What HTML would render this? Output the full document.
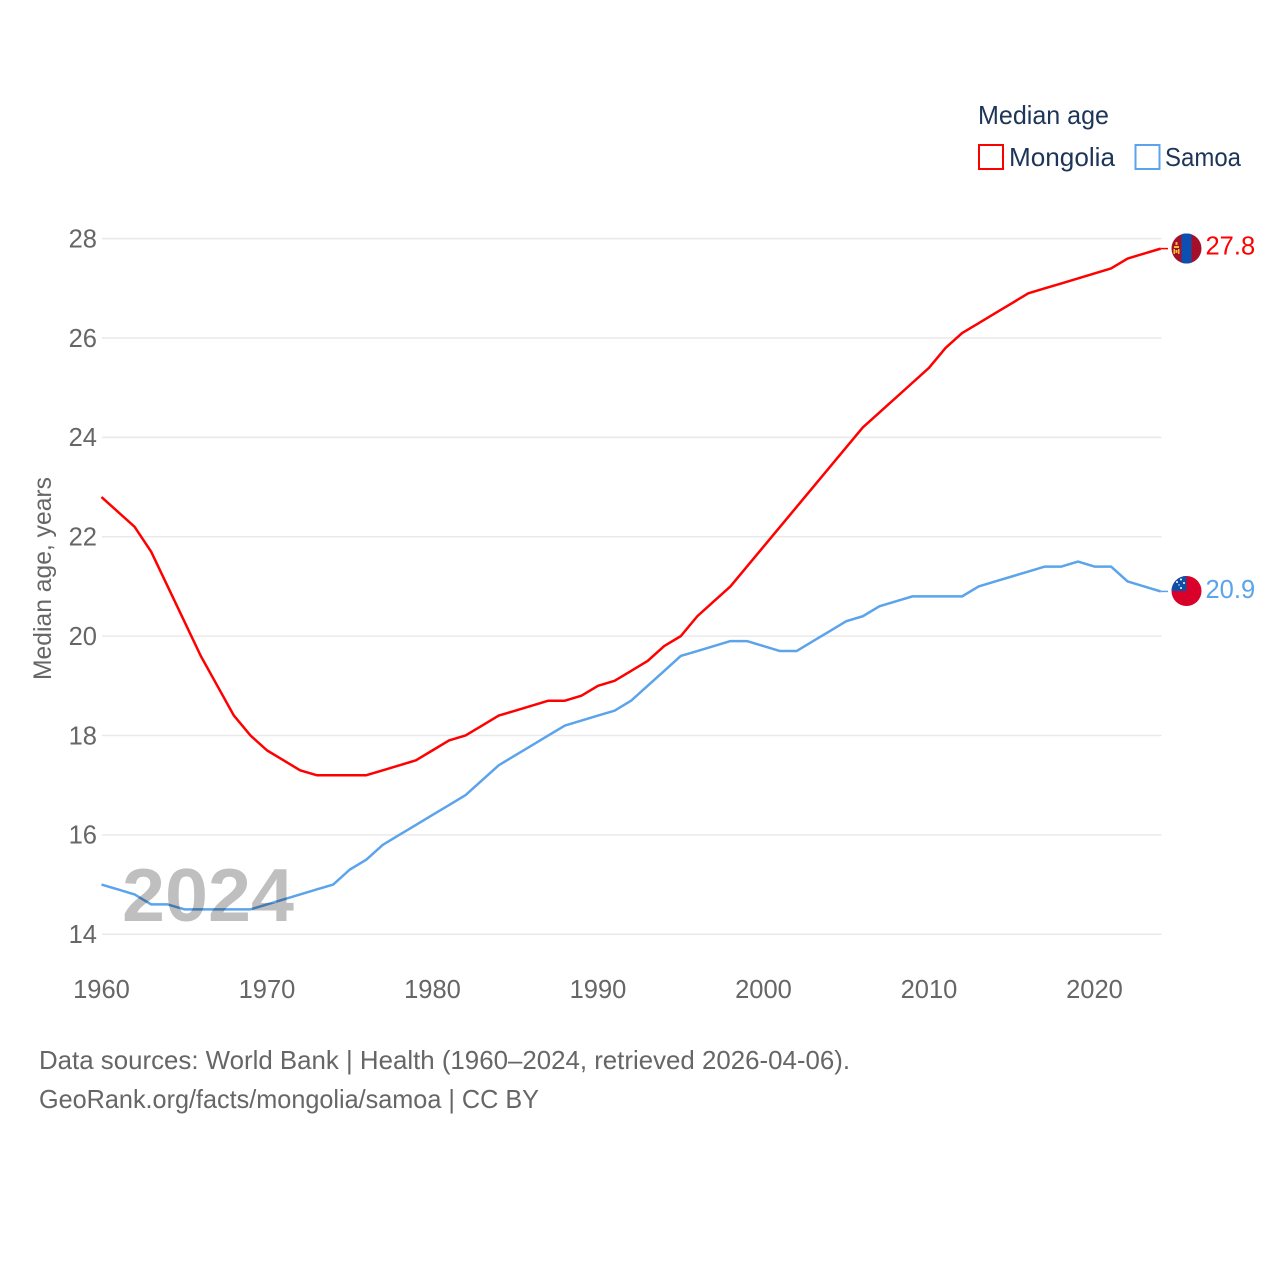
<!DOCTYPE html>
<html lang="en">
<head>
<meta charset="utf-8">
<title>Median age: Mongolia and Samoa</title>
<style>
html,body{margin:0;padding:0;background:#fff;width:1280px;height:1280px;overflow:hidden}
svg{display:block}
text{font-family:"Liberation Sans",sans-serif}
</style>
</head>
<body>
<svg id="chart" width="1280" height="1280" viewBox="0 0 1280 1280" xmlns="http://www.w3.org/2000/svg">
<defs>
<clipPath id="clip-mn"><circle cx="1186.5" cy="248.5" r="15"/></clipPath>
<clipPath id="clip-ws"><circle cx="1186.5" cy="591" r="15"/></clipPath>
</defs>
<g id="grid"></g>
<g id="yticks"></g>
<g id="xticks"></g>
<text transform="translate(51,680) rotate(-90)" font-size="25" fill="#666" textLength="203" lengthAdjust="spacingAndGlyphs">Median age, years</text>
<g id="series"></g>
<text x="122" y="921" font-size="75" font-weight="bold" fill="#000" fill-opacity="0.25" textLength="172" lengthAdjust="spacingAndGlyphs">2024</text>
<g clip-path="url(#clip-mn)">
<rect x="1171" y="233" width="31" height="31" fill="#a50f2a"/>
<rect x="1181.5" y="233" width="10" height="31" fill="#0b50b0"/>
<rect x="1174" y="246" width="5" height="2" fill="#f0c030"/>
<rect x="1175.5" y="242" width="2" height="3" fill="#f0c030"/>
<rect x="1173.5" y="249" width="1.5" height="5" fill="#f0c030"/>
<rect x="1178" y="249" width="1.5" height="5" fill="#f0c030"/>
<rect x="1175.5" y="250" width="2" height="3" fill="#f0c030"/>
</g>
<g clip-path="url(#clip-ws)">
<rect x="1171" y="575" width="31" height="32" fill="#d9002a"/>
<rect x="1171" y="575" width="15.5" height="16" fill="#0f4fa8"/>
<circle cx="1181" cy="579.5" r="1" fill="#fff"/>
<circle cx="1177" cy="582" r="1" fill="#fff"/>
<circle cx="1184" cy="583" r="1" fill="#fff"/>
<circle cx="1179" cy="585" r="0.7" fill="#fff"/>
<circle cx="1181" cy="588" r="1" fill="#fff"/>
</g>
<g id="end-labels"></g>
<g>
<text x="978" y="124" font-size="26" fill="#1d3557" textLength="131" lengthAdjust="spacingAndGlyphs">Median age</text>
<g>
<rect x="979" y="145" width="24" height="24" fill="#fff" stroke="#ff0000" stroke-width="2"/>
<text x="1009" y="166" font-size="26" fill="#1d3557" textLength="106" lengthAdjust="spacingAndGlyphs">Mongolia</text>
</g>
<g>
<rect x="1135.500" y="145" width="24" height="24" fill="#fff" stroke="#5ba4ec" stroke-width="2"/>
<text x="1165" y="166" font-size="26" fill="#1d3557" textLength="76" lengthAdjust="spacingAndGlyphs">Samoa</text>
</g>
</g>
<text x="39" y="1069" font-size="26" fill="#666" textLength="811" lengthAdjust="spacingAndGlyphs">Data sources: World Bank | Health (1960–2024, retrieved 2026-04-06).</text>
<a><text x="39" y="1108" font-size="26" fill="#666" textLength="500" lengthAdjust="spacingAndGlyphs">GeoRank.org/facts/mongolia/samoa | CC BY</text></a>
</svg>
<script>
const startYear = 1960;
const xTickYears = [1960, 1970, 1980, 1990, 2000, 2010, 2020];
const yTickValues = [14, 16, 18, 20, 22, 24, 26, 28];
const mongoliaValues = [22.8,22.5,22.2,21.7,21.0,20.3,19.6,19.0,18.4,18.0,17.7,17.5,17.3,17.2,17.2,17.2,17.2,17.3,17.4,17.5,17.7,17.9,18.0,18.2,18.4,18.5,18.6,18.7,18.7,18.8,19.0,19.1,19.3,19.5,19.8,20.0,20.4,20.7,21.0,21.4,21.8,22.2,22.6,23.0,23.4,23.8,24.2,24.5,24.8,25.1,25.4,25.8,26.1,26.3,26.5,26.7,26.9,27.0,27.1,27.2,27.3,27.4,27.6,27.7,27.8];
const samoaValues = [15.0,14.9,14.8,14.6,14.6,14.5,14.5,14.5,14.5,14.5,14.6,14.7,14.8,14.9,15.0,15.3,15.5,15.8,16.0,16.2,16.4,16.6,16.8,17.1,17.4,17.6,17.8,18.0,18.2,18.3,18.4,18.5,18.7,19.0,19.3,19.6,19.7,19.8,19.9,19.9,19.8,19.7,19.7,19.9,20.1,20.3,20.4,20.6,20.7,20.8,20.8,20.8,20.8,21.0,21.1,21.2,21.3,21.4,21.4,21.5,21.4,21.4,21.1,21.0,20.9];

const NS = 'http://www.w3.org/2000/svg';
const xScale = function (year) { return 101.5 + (year - 1960) * 16.55; };
const yScale = function (v) { return 934.2 - (v - 14) * 49.68; };

function make(tag, parent) {
  const el = document.createElementNS(NS, tag);
  parent.appendChild(el);
  return el;
}

const grid = document.getElementById('grid');
const yticks = document.getElementById('yticks');
yTickValues.forEach(function (v) {
  const line = make('line', grid);
  
  
  line.setAttribute('x1', 102);
  line.setAttribute('x2', 1161.5);
  line.setAttribute('y1', yScale(v));
  line.setAttribute('y2', yScale(v));
  line.setAttribute('stroke', '#e9e9e9');
  line.setAttribute('stroke-width', '1.5');
  const t = make('text', yticks);
  
  
  t.setAttribute('x', 97);
  t.setAttribute('y', yScale(v) + 8.8);
  t.setAttribute('text-anchor', 'end');
  t.setAttribute('font-size', '25.500');
  t.setAttribute('fill', '#666');
  t.textContent = String(v);
});

const xticks = document.getElementById('xticks');
xTickYears.forEach(function (y) {
  const t = make('text', xticks);
  
  
  t.setAttribute('x', xScale(y));
  t.setAttribute('y', 998);
  t.setAttribute('text-anchor', 'middle');
  t.setAttribute('font-size', '25.500');
  t.setAttribute('fill', '#666');
  t.textContent = String(y);
});

const seriesGroup = document.getElementById('series');
const labelGroup = document.getElementById('end-labels');

function drawSeries(values, color, name, labelY) {
  const pts = values.map(function (v, i) {
    return xScale(startYear + i).toFixed(2) + ',' + yScale(v).toFixed(2);
  }).join(' ');
  const line = make('polyline', seriesGroup);
  
  
  line.setAttribute('points', pts);
  line.setAttribute('fill', 'none');
  line.setAttribute('stroke', color);
  line.setAttribute('stroke-width', '2.5');
  line.setAttribute('stroke-linejoin', 'round');
  const last = values[values.length - 1];
  const connector = make('line', seriesGroup);
  
  
  connector.setAttribute('x1', xScale(startYear + values.length - 1));
  connector.setAttribute('x2', 1168);
  connector.setAttribute('y1', yScale(last));
  connector.setAttribute('y2', yScale(last));
  connector.setAttribute('stroke', color);
  connector.setAttribute('stroke-width', '1.5');
  const t = make('text', labelGroup);
  
  
  t.setAttribute('x', 1205.5);
  t.setAttribute('y', labelY);
  t.setAttribute('font-size', '25.500');
  t.setAttribute('fill', color);
  t.textContent = last.toFixed(1);
}

drawSeries(mongoliaValues, '#ff0000', 'mongolia', 254.5);
drawSeries(samoaValues, '#5ba4ec', 'samoa', 598);
</script>
</body>
</html>
